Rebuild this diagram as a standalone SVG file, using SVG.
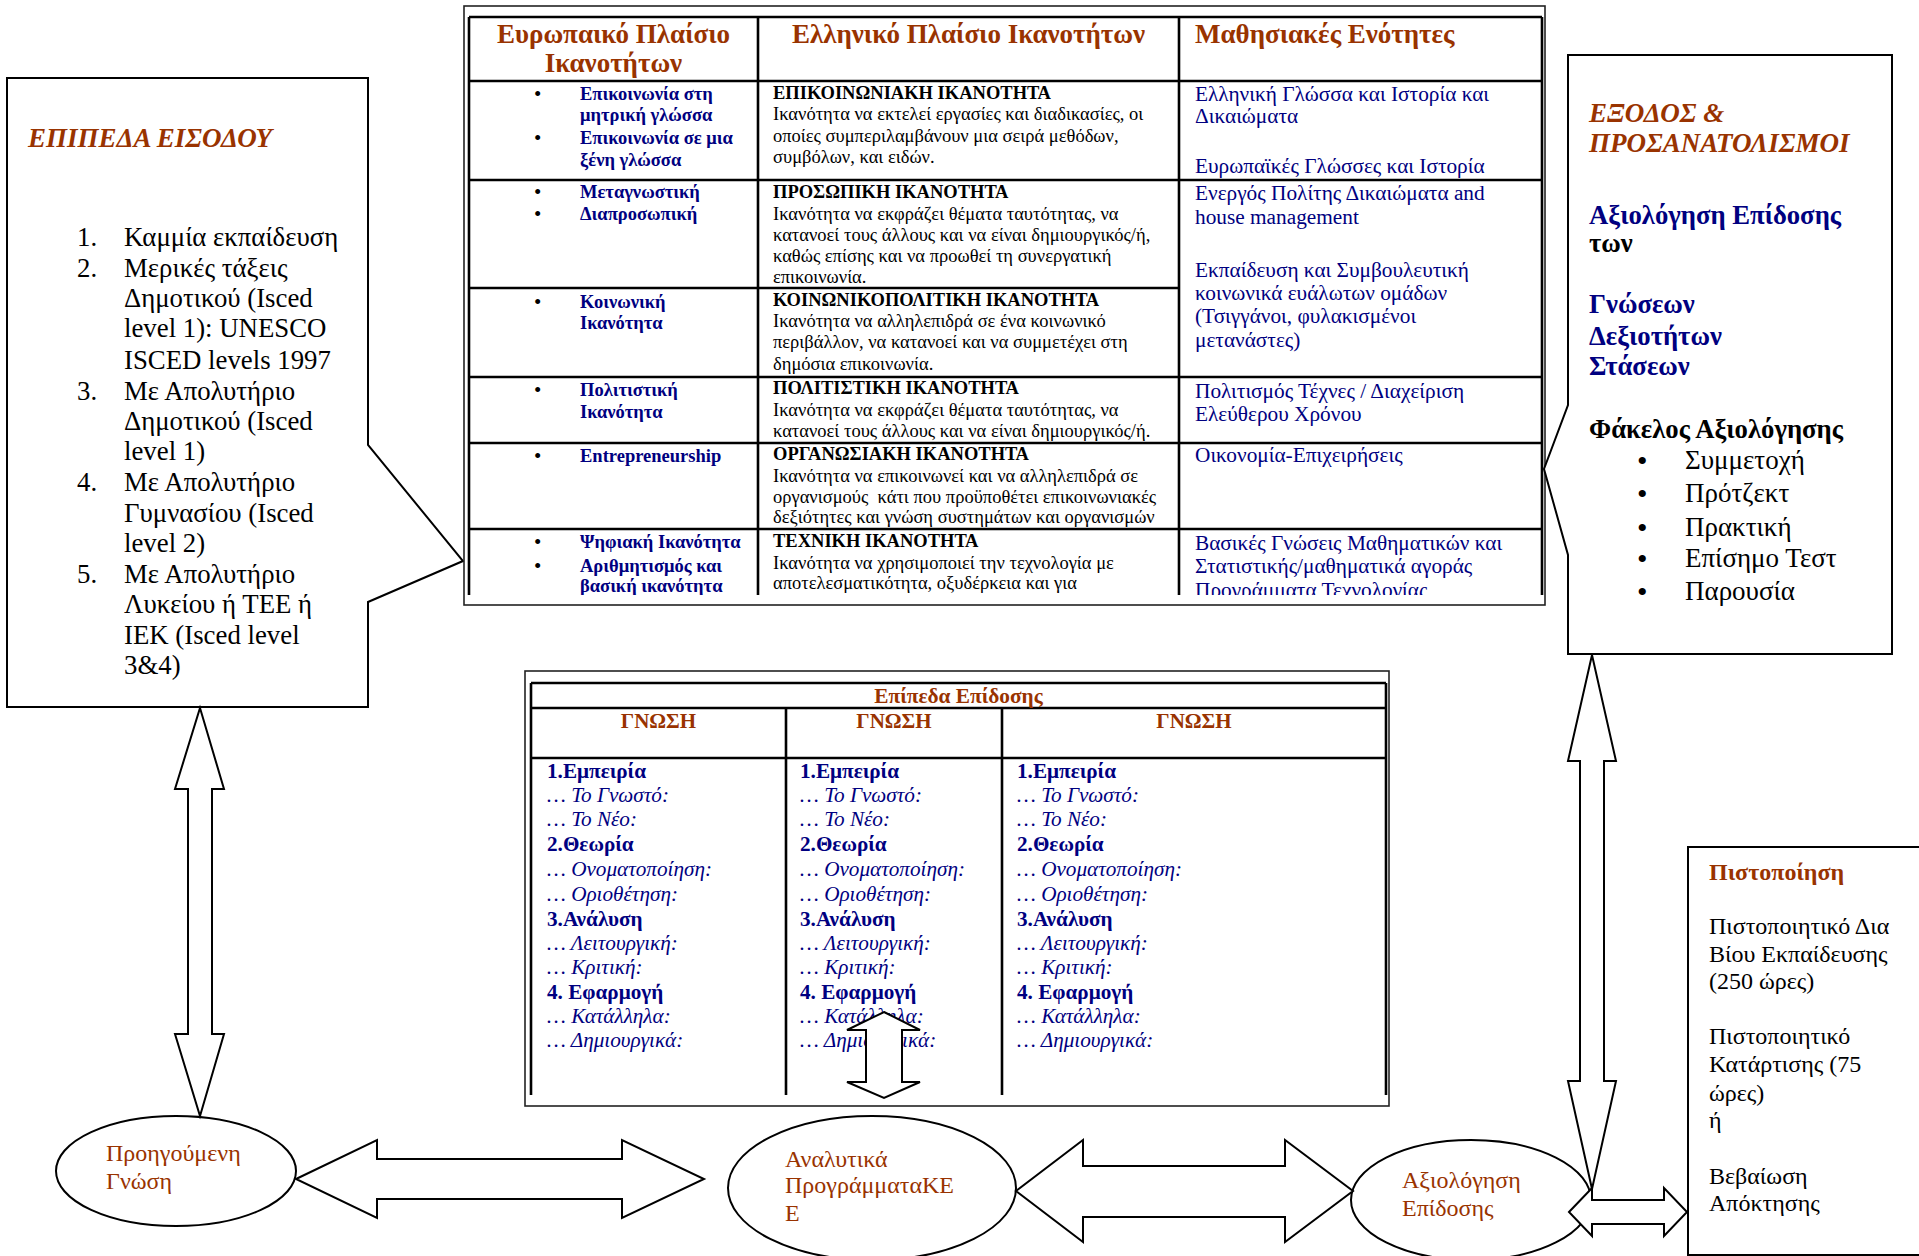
<svg xmlns="http://www.w3.org/2000/svg" width="1919" height="1256" viewBox="0 0 1919 1256">
<defs>
<style>
text{font-family:"Liberation Serif","Times New Roman",serif;}
.br{fill:#993300}
.nv{fill:#000080}
.bk{fill:#000}
.b{font-weight:bold}
.i{font-style:italic}
.box{fill:#fff;stroke:#000;stroke-width:2}
.frame{fill:#fff;stroke:#222;stroke-width:1.6}
.grid{fill:none;stroke:#000;stroke-width:2.6}
.arrow{fill:#fff;stroke:#000;stroke-width:2;stroke-linejoin:miter}
.ell{fill:#fff;stroke:#000;stroke-width:2}
.list{font-size:26.8px}
.th{font-size:27px;font-weight:bold;fill:#993300}
.c1{font-size:18.5px;font-weight:bold;fill:#000080}
.c2{font-size:18.5px;fill:#000}
.c3{font-size:21.3px;fill:#000080}
.pt{font-size:21.2px;fill:#000080}
.bul{fill:#000}
.ex{font-size:26.7px;font-weight:bold}
.el{font-size:24px;fill:#993300}
</style>
<clipPath id="tclip"><rect x="455" y="8" width="1095" height="587"/></clipPath>
<clipPath id="bclip"><rect x="527" y="675" width="862" height="420"/></clipPath>
</defs>
<rect width="1919" height="1256" fill="#fff"/>

<g id="entry-levels">
<path class="box" d="M7,78 H368 V445 L463,561 L368,602 V707 H7 Z"/>
<text x="28" y="147" class="br b i" font-size="27">ΕΠΙΠΕΔΑ ΕΙΣΟΔΟΥ</text>
<g class="list bk">
<text x="77" y="246">1.</text><text x="124" y="246">Καμμία εκπαίδευση</text>
<text x="77" y="277">2.</text><text x="124" y="277">Μερικές τάξεις</text>
<text x="124" y="307">Δημοτικού (Isced</text>
<text x="124" y="337">level 1): UNESCO</text>
<text x="124" y="369">ISCED levels 1997</text>
<text x="77" y="400">3.</text><text x="124" y="400">Με Απολυτήριο</text>
<text x="124" y="430">Δημοτικού (Isced</text>
<text x="124" y="460">level 1)</text>
<text x="77" y="491">4.</text><text x="124" y="491">Με Απολυτήριο</text>
<text x="124" y="522">Γυμνασίου (Isced</text>
<text x="124" y="552">level 2)</text>
<text x="77" y="583">5.</text><text x="124" y="583">Με Απολυτήριο</text>
<text x="124" y="613">Λυκείου ή ΤΕΕ ή</text>
<text x="124" y="644">ΙΕΚ (Isced level</text>
<text x="124" y="674">3&amp;4)</text>
</g>
</g>

<g id="competence-table">
<rect class="frame" x="464" y="6" width="1081" height="599"/>
<g clip-path="url(#tclip)">
<path class="grid" d="M469,17 H1542 M469,17 V600 M1542,17 V600 M758,17 V600 M1179,17 V600 M469,81 H1542 M469,180 H1542 M469,288 H1179 M469,377 H1542 M469,443 H1542 M469,529 H1542"/>
<text class="th" x="613.5" y="43" text-anchor="middle">Ευρωπαικό Πλαίσιο</text>
<text class="th" x="613.5" y="72" text-anchor="middle">Ικανοτήτων</text>
<text class="th" x="968.5" y="43" text-anchor="middle">Ελληνικό Πλαίσιο Ικανοτήτων</text>
<text class="th" x="1195" y="43">Μαθησιακές Ενότητες</text>
<g class="bul" font-size="21">
<text x="534" y="101">•</text>
<text x="534" y="145">•</text>
<text x="534" y="199">•</text>
<text x="534" y="221">•</text>
<text x="534" y="309">•</text>
<text x="534" y="397">•</text>
<text x="534" y="463">•</text>
<text x="534" y="549">•</text>
<text x="534" y="573">•</text>
</g>
<g class="c1">
<text x="580" y="100">Επικοινωνία στη</text>
<text x="580" y="121">μητρική γλώσσα</text>
<text x="580" y="144">Επικοινωνία σε μια</text>
<text x="580" y="166">ξένη γλώσσα</text>
<text x="580" y="198">Μεταγνωστική</text>
<text x="580" y="220">Διαπροσωπική</text>
<text x="580" y="308">Κοινωνική</text>
<text x="580" y="329">Ικανότητα</text>
<text x="580" y="396">Πολιτιστική</text>
<text x="580" y="418">Ικανότητα</text>
<text x="580" y="462">Entrepreneurship</text>
<text x="580" y="548">Ψηφιακή Ικανότητα</text>
<text x="580" y="572">Αριθμητισμός και</text>
<text x="580" y="592">βασική ικανότητα</text>
</g>
<g class="c2">
<text x="773" y="99" font-weight="bold">ΕΠΙΚΟΙΝΩΝΙΑΚΗ ΙΚΑΝΟΤΗΤΑ</text>
<text x="773" y="120">Ικανότητα να εκτελεί εργασίες και διαδικασίες, οι</text>
<text x="773" y="142">οποίες συμπεριλαμβάνουν μια σειρά μεθόδων,</text>
<text x="773" y="163">συμβόλων, και ειδών.</text>
<text x="773" y="198" font-weight="bold">ΠΡΟΣΩΠΙΚΗ ΙΚΑΝΟΤΗΤΑ</text>
<text x="773" y="220">Ικανότητα να εκφράζει θέματα ταυτότητας, να</text>
<text x="773" y="241">κατανοεί τους άλλους και να είναι δημιουργικός/ή,</text>
<text x="773" y="262">καθώς επίσης και να προωθεί τη συνεργατική</text>
<text x="773" y="283">επικοινωνία.</text>
<text x="773" y="306" font-weight="bold">ΚΟΙΝΩΝΙΚΟΠΟΛΙΤΙΚΗ ΙΚΑΝΟΤΗΤΑ</text>
<text x="773" y="327">Ικανότητα να αλληλεπιδρά σε ένα κοινωνικό</text>
<text x="773" y="348">περιβάλλον, να κατανοεί και να συμμετέχει στη</text>
<text x="773" y="370">δημόσια επικοινωνία.</text>
<text x="773" y="394" font-weight="bold">ΠΟΛΙΤΙΣΤΙΚΗ ΙΚΑΝΟΤΗΤΑ</text>
<text x="773" y="416">Ικανότητα να εκφράζει θέματα ταυτότητας, να</text>
<text x="773" y="437">κατανοεί τους άλλους και να είναι δημιουργικός/ή.</text>
<text x="773" y="460" font-weight="bold">ΟΡΓΑΝΩΣΙΑΚΗ ΙΚΑΝΟΤΗΤΑ</text>
<text x="773" y="482">Ικανότητα να επικοινωνεί και να αλληλεπιδρά σε</text>
<text x="773" y="503" xml:space="preserve">οργανισμούς  κάτι που προϋποθέτει επικοινωνιακές</text>
<text x="773" y="523">δεξιότητες και γνώση συστημάτων και οργανισμών</text>
<text x="773" y="547" font-weight="bold">ΤΕΧΝΙΚΗ ΙΚΑΝΟΤΗΤΑ</text>
<text x="773" y="569">Ικανότητα να χρησιμοποιεί την τεχνολογία με</text>
<text x="773" y="589">αποτελεσματικότητα, οξυδέρκεια και για</text>
</g>
<g class="c3">
<text x="1195" y="101">Ελληνική Γλώσσα και Ιστορία και</text>
<text x="1195" y="123">Δικαιώματα</text>
<text x="1195" y="173">Ευρωπαϊκές Γλώσσες και Ιστορία</text>
<text x="1195" y="200">Ενεργός Πολίτης Δικαιώματα and</text>
<text x="1195" y="224">house management</text>
<text x="1195" y="277">Εκπαίδευση και Συμβουλευτική</text>
<text x="1195" y="300">κοινωνικά ευάλωτων ομάδων</text>
<text x="1195" y="323">(Τσιγγάνοι, φυλακισμένοι</text>
<text x="1195" y="347">μετανάστες)</text>
<text x="1195" y="398">Πολιτισμός Τέχνες / Διαχείριση</text>
<text x="1195" y="421">Ελεύθερου Χρόνου</text>
<text x="1195" y="462">Οικονομία-Επιχειρήσεις</text>
<text x="1195" y="550">Βασικές Γνώσεις Μαθηματικών και</text>
<text x="1195" y="573">Στατιστικής/μαθηματικά αγοράς</text>
<text x="1195" y="597">Προγράμματα Τεχνολογίας</text>
</g>
</g>
</g>

<g id="exits">
<path class="box" d="M1568,55 H1892 V654 H1568 V555 L1544,469 L1568,405 Z"/>
<text x="1589" y="122" class="br b i" font-size="27">ΕΞΟΔΟΣ &amp;</text>
<text x="1589" y="152" class="br b i" font-size="27">ΠΡΟΣΑΝΑΤΟΛΙΣΜΟΙ</text>
<text x="1589" y="224" class="ex nv">Αξιολόγηση Επίδοσης</text>
<text x="1589" y="252" class="ex bk">των</text>
<text x="1589" y="313" class="ex nv">Γνώσεων</text>
<text x="1589" y="345" class="ex nv">Δεξιοτήτων</text>
<text x="1589" y="375" class="ex nv">Στάσεων</text>
<text x="1589" y="438" class="ex bk">Φάκελος Αξιολόγησης</text>
<g class="bul" font-size="30">
<text x="1637" y="471">•</text>
<text x="1637" y="504">•</text>
<text x="1637" y="538">•</text>
<text x="1637" y="569">•</text>
<text x="1637" y="602">•</text>
</g>
<g class="bk" font-size="27">
<text x="1685" y="469">Συμμετοχή</text>
<text x="1685" y="502">Πρότζεκτ</text>
<text x="1685" y="536">Πρακτική</text>
<text x="1685" y="567">Επίσημο Τεστ</text>
<text x="1685" y="600">Παρουσία</text>
</g>
</g>

<g id="performance-table">
<rect class="frame" x="525" y="671" width="864" height="435"/>
<g clip-path="url(#bclip)">
<path class="grid" d="M531,683 H1386 M531,683 V1100 M1386,683 V1100 M531,708 H1386 M531,758 H1386 M786,708 V1100 M1002,708 V1100"/>
</g>
<text x="958.5" y="703" class="br b" font-size="21.3" text-anchor="middle">Επίπεδα Επίδοσης</text>
<text x="658.5" y="728" class="br b" font-size="21" text-anchor="middle">ΓΝΩΣΗ</text>
<text x="894" y="728" class="br b" font-size="21" text-anchor="middle">ΓΝΩΣΗ</text>
<text x="1194" y="728" class="br b" font-size="21" text-anchor="middle">ΓΝΩΣΗ</text>
<g class="pt">
<text x="547" y="778" font-weight="bold">1.Εμπειρία</text>
<text x="547" y="802" font-style="italic">… Το Γνωστό:</text>
<text x="547" y="826" font-style="italic">… Το Νέο:</text>
<text x="547" y="851" font-weight="bold">2.Θεωρία</text>
<text x="547" y="876" font-style="italic">… Ονοματοποίηση:</text>
<text x="547" y="901" font-style="italic">… Οριοθέτηση:</text>
<text x="547" y="926" font-weight="bold">3.Ανάλυση</text>
<text x="547" y="950" font-style="italic">… Λειτουργική:</text>
<text x="547" y="974" font-style="italic">… Κριτική:</text>
<text x="547" y="999" font-weight="bold">4. Εφαρμογή</text>
<text x="547" y="1023" font-style="italic">… Κατάλληλα:</text>
<text x="547" y="1047" font-style="italic">… Δημιουργικά:</text>
<text x="800" y="778" font-weight="bold">1.Εμπειρία</text>
<text x="800" y="802" font-style="italic">… Το Γνωστό:</text>
<text x="800" y="826" font-style="italic">… Το Νέο:</text>
<text x="800" y="851" font-weight="bold">2.Θεωρία</text>
<text x="800" y="876" font-style="italic">… Ονοματοποίηση:</text>
<text x="800" y="901" font-style="italic">… Οριοθέτηση:</text>
<text x="800" y="926" font-weight="bold">3.Ανάλυση</text>
<text x="800" y="950" font-style="italic">… Λειτουργική:</text>
<text x="800" y="974" font-style="italic">… Κριτική:</text>
<text x="800" y="999" font-weight="bold">4. Εφαρμογή</text>
<text x="800" y="1023" font-style="italic">… Κατάλληλα:</text>
<text x="800" y="1047" font-style="italic">… Δημιουργικά:</text>
<text x="1017" y="778" font-weight="bold">1.Εμπειρία</text>
<text x="1017" y="802" font-style="italic">… Το Γνωστό:</text>
<text x="1017" y="826" font-style="italic">… Το Νέο:</text>
<text x="1017" y="851" font-weight="bold">2.Θεωρία</text>
<text x="1017" y="876" font-style="italic">… Ονοματοποίηση:</text>
<text x="1017" y="901" font-style="italic">… Οριοθέτηση:</text>
<text x="1017" y="926" font-weight="bold">3.Ανάλυση</text>
<text x="1017" y="950" font-style="italic">… Λειτουργική:</text>
<text x="1017" y="974" font-style="italic">… Κριτική:</text>
<text x="1017" y="999" font-weight="bold">4. Εφαρμογή</text>
<text x="1017" y="1023" font-style="italic">… Κατάλληλα:</text>
<text x="1017" y="1047" font-style="italic">… Δημιουργικά:</text>
</g>
</g>

<g id="prior-knowledge">
<ellipse class="ell" cx="176" cy="1171" rx="120" ry="55"/>
<text x="106" y="1161" class="el">Προηγούμενη</text>
<text x="106" y="1189" class="el">Γνώση</text>
</g>

<g id="curricula">
<ellipse class="ell" cx="872" cy="1188" rx="144" ry="72"/>
<text x="785" y="1167" class="el">Αναλυτικά</text>
<text x="785" y="1193" class="el">ΠρογράμματαΚΕ</text>
<text x="785" y="1221" class="el">Ε</text>
</g>

<g id="evaluation">
<ellipse class="ell" cx="1471" cy="1200" rx="120" ry="60"/>
<text x="1402" y="1188" class="el">Αξιολόγηση</text>
<text x="1402" y="1216" class="el">Επίδοσης</text>
</g>

<g id="certification">
<rect class="box" x="1688" y="847" width="260" height="408"/>
<text x="1709" y="880" class="br b" font-size="24">Πιστοποίηση</text>
<g class="bk" font-size="24">
<text x="1709" y="934">Πιστοποιητικό Δια</text>
<text x="1709" y="962">Βίου Εκπαίδευσης</text>
<text x="1709" y="989">(250 ώρες)</text>
<text x="1709" y="1044">Πιστοποιητικό</text>
<text x="1709" y="1072">Κατάρτισης (75</text>
<text x="1709" y="1101">ώρες)</text>
<text x="1709" y="1128">ή</text>
<text x="1709" y="1184">Βεβαίωση</text>
<text x="1709" y="1211">Απόκτησης</text>
</g>
</g>

<g id="connectors">
<polygon class="arrow" points="200,708 224,789 212,789 212,1034 224,1034 200,1116 175,1034 188,1034 188,789 175,789"/>
<polygon class="arrow" points="296,1179 377,1140 377,1159 622,1159 622,1140 704,1179 622,1218 622,1199 377,1199 377,1218"/>
<polygon class="arrow" points="1016,1191 1083,1140 1083,1166 1285,1166 1285,1140 1353,1191 1285,1242 1285,1217 1083,1217 1083,1242"/>
<polygon class="arrow" points="1592,655 1616,761 1604,761 1604,1081 1616,1081 1592,1189 1568,1081 1580,1081 1580,761 1568,761"/>
<polygon class="arrow" points="1569,1212 1592,1188 1592,1200 1664,1200 1664,1188 1687,1212 1664,1236 1664,1224 1592,1224 1592,1236"/>
<polygon class="arrow" points="884,1012 920,1030 902,1030 902,1082 920,1082 884,1098 847,1082 866,1082 866,1030 847,1030"/>
</g>
</svg>
